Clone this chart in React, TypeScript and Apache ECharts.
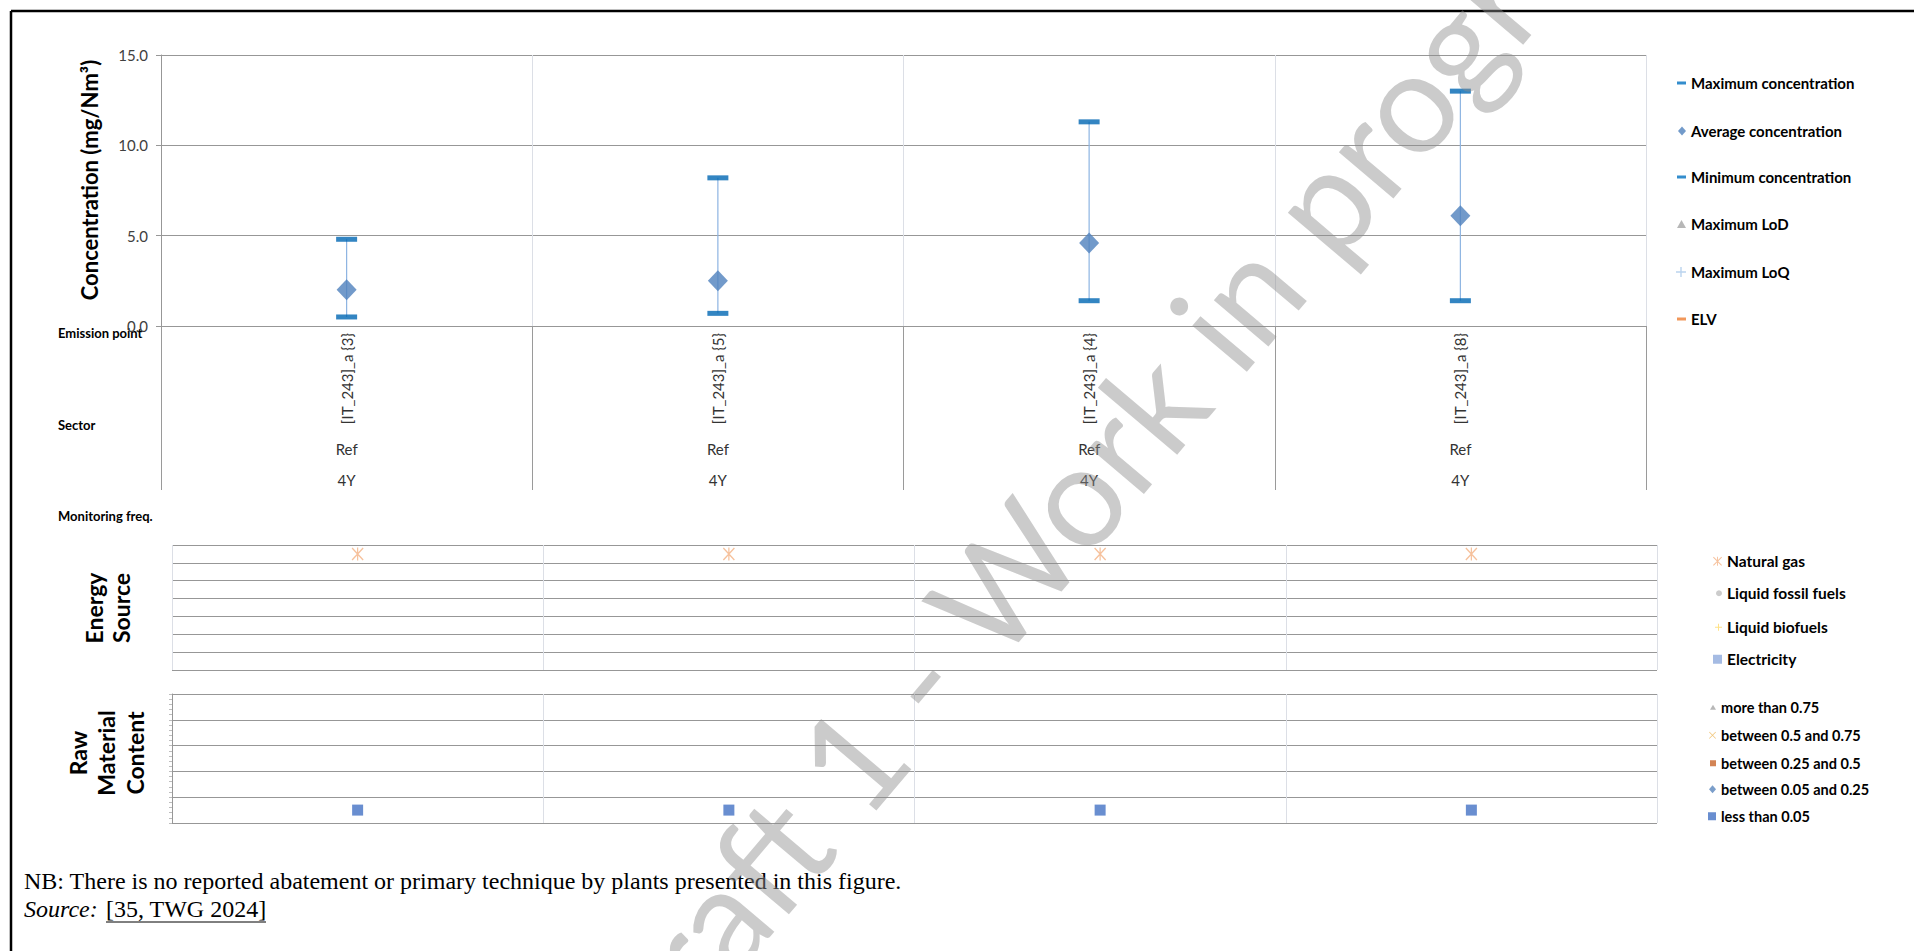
import React, { useEffect, useRef } from 'react';
import * as echarts from 'echarts';

// ---------- data ----------
const categories = ['[IT_243]_a {3}', '[IT_243]_a {5}', '[IT_243]_a {4}', '[IT_243]_a {8}'];
const sectors = ['Ref', 'Ref', 'Ref', 'Ref'];
const monitoringFreq = ['4Y', '4Y', '4Y', '4Y'];
const maxConcentration = [4.8, 8.2, 11.3, 13.0];
const avgConcentration = [2.0, 2.5, 4.6, 6.1];
const minConcentration = [0.5, 0.7, 1.4, 1.4];
const concentrationTicks = [0, 5, 10, 15];
const energyRowCount = 7;
const naturalGasRow = [6.5, 6.5, 6.5, 6.5];
const rawMaterialRowCount = 5;
const lessThan005Row = [0.5, 0.5, 0.5, 0.5];
const concentrationLegend = ['Maximum concentration', 'Average concentration', 'Minimum concentration', 'Maximum LoD', 'Maximum LoQ', 'ELV'];
const energyLegend = ['Natural gas', 'Liquid fossil fuels', 'Liquid biofuels', 'Electricity'];
const rawLegend = ['more than 0.75', 'between 0.5 and 0.75', 'between 0.25 and 0.5', 'between 0.05 and 0.25', 'less than 0.05'];

// ---------- styles ----------
const FONT = 'Lato, "Open Sans", sans-serif';
const SERIF = '"Liberation Serif", "Times New Roman", serif';
const PLUS = 'path://M4.3,0H5.7V10H4.3ZM0,4.3H10V5.7H0Z';
const CROSS = 'path://M0,0.8L0.8,0L10,9.2L9.2,10ZM9.2,0L10,0.8L0.8,10L0,9.2Z';
const ASTER = 'path://M0,0.8L0.8,0L10,9.2L9.2,10ZM9.2,0L10,0.8L0.8,10L0,9.2ZM4.5,0H5.5V10H4.5Z';
const GRID_H = '#979797';
const GRID_V = '#dcdfe6';

type LegendSpec = { name: string; icon: string; color: string; w: number; h: number; textLeft: number; cy: number; fs: number };

const legendSpecs: LegendSpec[] = [
  { name: concentrationLegend[0], icon: 'rect', color: '#0070C0', w: 9, h: 3, textLeft: 1691, cy: 83, fs: 15 },
  { name: concentrationLegend[1], icon: 'diamond', color: '#4F81BD', w: 8, h: 9, textLeft: 1691, cy: 131, fs: 15 },
  { name: concentrationLegend[2], icon: 'rect', color: '#0070C0', w: 9, h: 3, textLeft: 1691, cy: 177, fs: 15 },
  { name: concentrationLegend[3], icon: 'triangle', color: '#A5A5A5', w: 9, h: 8, textLeft: 1691, cy: 224, fs: 15 },
  { name: concentrationLegend[4], icon: PLUS, color: '#A9C8EA', w: 10, h: 10, textLeft: 1691, cy: 272, fs: 15 },
  { name: concentrationLegend[5], icon: 'rect', color: '#ED7D31', w: 9, h: 3, textLeft: 1691, cy: 319, fs: 15 },
  { name: energyLegend[0], icon: ASTER, color: '#F4B183', w: 9, h: 10, textLeft: 1727, cy: 561, fs: 15.5 },
  { name: energyLegend[1], icon: 'circle', color: '#BFBFBF', w: 6, h: 6, textLeft: 1727, cy: 593, fs: 15.5 },
  { name: energyLegend[2], icon: PLUS, color: '#FFD966', w: 7, h: 7, textLeft: 1727, cy: 627, fs: 15.5 },
  { name: energyLegend[3], icon: 'rect', color: '#8FAADC', w: 9, h: 9, textLeft: 1727, cy: 659, fs: 15.5 },
  { name: rawLegend[0], icon: 'triangle', color: '#A5A5A5', w: 6, h: 5, textLeft: 1721, cy: 707, fs: 14.5 },
  { name: rawLegend[1], icon: CROSS, color: '#EDB95C', w: 7, h: 7, textLeft: 1721, cy: 735, fs: 14.5 },
  { name: rawLegend[2], icon: 'rect', color: '#C8652A', w: 6, h: 6, textLeft: 1721, cy: 763, fs: 14.5 },
  { name: rawLegend[3], icon: 'diamond', color: '#5A86BD', w: 7, h: 8, textLeft: 1721, cy: 789, fs: 14.5 },
  { name: rawLegend[4], icon: 'rect', color: '#4472C4', w: 8, h: 8, textLeft: 1721, cy: 816, fs: 14.5 },
];

function buildOption(): any {
  const emptyScatter = (name: string, xi: number, color: string) => ({
    name,
    type: 'scatter',
    xAxisIndex: xi,
    yAxisIndex: xi === 0 ? 0 : xi === 3 ? 1 : 2,
    data: [],
    itemStyle: { color },
  });

  const legends = legendSpecs.map((s) => ({
    data: [{ name: s.name, icon: s.icon, itemStyle: { color: s.color, borderWidth: 0 } }],
    left: s.textLeft - 5 - s.w,
    top: s.cy - s.fs / 2,
    orient: 'vertical',
    padding: 0,
    itemGap: 0,
    itemWidth: s.w,
    itemHeight: s.h,
    selectedMode: false,
    textStyle: { fontFamily: FONT, fontWeight: 'bold', fontSize: s.fs, color: '#000' },
  }));

  return {
    animation: false,
    backgroundColor: '#ffffff',
    legend: legends,
    grid: [
      { left: 161, top: 55, width: 1485, height: 271 },
      { left: 172, top: 545, width: 1485, height: 125 },
      { left: 172, top: 694, width: 1485, height: 129 },
    ],
    xAxis: [
      {
        type: 'category', gridIndex: 0, data: categories, position: 'bottom',
        axisLine: { show: true, lineStyle: { color: GRID_H, width: 1 } },
        axisTick: { show: true, interval: 0, length: 164, lineStyle: { color: '#9a9a9a' } },
        axisLabel: { interval: 0, rotate: 90, margin: 7, fontFamily: FONT, fontSize: 15, color: '#333' },
        splitLine: { show: true, interval: 0, lineStyle: { color: GRID_V } },
      },
      {
        type: 'category', gridIndex: 0, data: categories, position: 'bottom', offset: 109,
        axisLine: { show: false }, axisTick: { show: false },
        axisLabel: { interval: 0, margin: 6, fontFamily: FONT, fontSize: 15, color: '#333', formatter: (_v: string, i: number) => sectors[i] },
      },
      {
        type: 'category', gridIndex: 0, data: categories, position: 'bottom', offset: 140,
        axisLine: { show: false }, axisTick: { show: false },
        axisLabel: { interval: 0, margin: 6, fontFamily: FONT, fontSize: 15, color: '#333', formatter: (_v: string, i: number) => monitoringFreq[i] },
      },
      {
        type: 'category', gridIndex: 1, data: categories,
        axisLine: { show: false }, axisTick: { show: false }, axisLabel: { show: false },
        splitLine: { show: true, interval: 0, lineStyle: { color: GRID_V } },
      },
      {
        type: 'category', gridIndex: 2, data: categories,
        axisLine: { show: false }, axisTick: { show: false }, axisLabel: { show: false },
        splitLine: { show: true, interval: 0, lineStyle: { color: GRID_V } },
      },
    ],
    yAxis: [
      {
        type: 'value', gridIndex: 0,
        min: concentrationTicks[0], max: concentrationTicks[concentrationTicks.length - 1],
        interval: concentrationTicks[1] - concentrationTicks[0],
        axisLine: { show: true, lineStyle: { color: GRID_H } },
        axisTick: { show: true, length: 5, lineStyle: { color: GRID_H } },
        axisLabel: { margin: 13, fontFamily: FONT, fontSize: 15, color: '#404040', formatter: (v: number) => v.toFixed(1) },
        splitLine: { show: true, lineStyle: { color: GRID_H } },
      },
      {
        type: 'value', gridIndex: 1, min: 0, max: energyRowCount, interval: 1,
        axisLine: { show: false }, axisTick: { show: false }, axisLabel: { show: false },
        splitLine: { show: true, lineStyle: { color: GRID_H } },
      },
      {
        type: 'value', gridIndex: 2, min: 0, max: rawMaterialRowCount, interval: 1,
        axisLine: { show: true, lineStyle: { color: GRID_H } },
        axisTick: { show: true, length: 3, lineStyle: { color: '#bdbdbd' } },
        minorTick: { show: true, splitNumber: 5, length: 3, lineStyle: { color: '#bdbdbd' } },
        axisLabel: { show: false },
        splitLine: { show: true, lineStyle: { color: GRID_H } },
      },
    ],
    series: [
      {
        type: 'custom', name: 'range', xAxisIndex: 0, yAxisIndex: 0, z: 1,
        data: categories.map((_c, i) => [i, minConcentration[i], maxConcentration[i]]),
        encode: { x: 0, y: [1, 2] },
        renderItem: (_p: any, api: any) => {
          const a = api.coord([api.value(0), api.value(1)]);
          const b = api.coord([api.value(0), api.value(2)]);
          return { type: 'line', shape: { x1: a[0], y1: a[1], x2: b[0], y2: b[1] }, style: { stroke: '#8DB4E2', lineWidth: 1.2 } };
        },
      },
      {
        name: concentrationLegend[0], type: 'scatter', xAxisIndex: 0, yAxisIndex: 0, z: 3,
        symbol: 'rect', symbolSize: [21, 5], itemStyle: { color: '#0066B3' },
        data: maxConcentration.map((v, i) => [i, v]),
      },
      {
        name: concentrationLegend[1], type: 'scatter', xAxisIndex: 0, yAxisIndex: 0, z: 4,
        symbol: 'diamond', symbolSize: [20, 21], itemStyle: { color: '#4F81BD' },
        data: avgConcentration.map((v, i) => [i, v]),
      },
      {
        name: concentrationLegend[2], type: 'scatter', xAxisIndex: 0, yAxisIndex: 0, z: 3,
        symbol: 'rect', symbolSize: [21, 5], itemStyle: { color: '#0066B3' },
        data: minConcentration.map((v, i) => [i, v]),
      },
      emptyScatter(concentrationLegend[3], 0, '#A5A5A5'),
      emptyScatter(concentrationLegend[4], 0, '#A9C8EA'),
      emptyScatter(concentrationLegend[5], 0, '#ED7D31'),
      {
        name: energyLegend[0], type: 'scatter', xAxisIndex: 3, yAxisIndex: 1,
        symbol: ASTER, symbolSize: [12, 13], itemStyle: { color: '#F4B183' },
        data: naturalGasRow.map((v, i) => [i, v]),
      },
      emptyScatter(energyLegend[1], 3, '#BFBFBF'),
      emptyScatter(energyLegend[2], 3, '#FFD966'),
      emptyScatter(energyLegend[3], 3, '#8FAADC'),
      emptyScatter(rawLegend[0], 4, '#A5A5A5'),
      emptyScatter(rawLegend[1], 4, '#EDB95C'),
      emptyScatter(rawLegend[2], 4, '#C8652A'),
      emptyScatter(rawLegend[3], 4, '#5A86BD'),
      {
        name: rawLegend[4], type: 'scatter', xAxisIndex: 4, yAxisIndex: 2,
        symbol: 'rect', symbolSize: [11, 11], itemStyle: { color: '#4472C4' },
        data: lessThan005Row.map((v, i) => [i, v]),
      },
    ],
    graphic: [
      { type: 'line', shape: { x1: 11, y1: 11, x2: 1914, y2: 11 }, style: { stroke: '#000', lineWidth: 2.5 }, z: 50 },
      { type: 'line', shape: { x1: 11, y1: 11, x2: 11, y2: 951 }, style: { stroke: '#000', lineWidth: 2.5 }, z: 50 },
      {
        type: 'text', x: 89, y: 180, rotation: Math.PI / 2,
        style: { text: 'Concentration (mg/Nm³)', font: `bold 22px ${FONT}`, fill: '#000', align: 'center', verticalAlign: 'middle' },
      },
      { type: 'text', x: 58, y: 333, style: { text: 'Emission point', font: `bold 13px ${FONT}`, fill: '#000', verticalAlign: 'middle' } },
      { type: 'text', x: 58, y: 425, style: { text: 'Sector', font: `bold 13px ${FONT}`, fill: '#000', verticalAlign: 'middle' } },
      { type: 'text', x: 58, y: 516, style: { text: 'Monitoring freq.', font: `bold 13px ${FONT}`, fill: '#000', verticalAlign: 'middle' } },
      {
        type: 'text', x: 107, y: 608, rotation: Math.PI / 2,
        style: { text: 'Energy\nSource', font: `bold 23px ${FONT}`, lineHeight: 27, fill: '#000', align: 'center', verticalAlign: 'middle' },
      },
      {
        type: 'text', x: 106, y: 753, rotation: Math.PI / 2,
        style: { text: 'Raw\nMaterial\nContent', font: `bold 23px ${FONT}`, lineHeight: 28.5, fill: '#000', align: 'center', verticalAlign: 'middle' },
      },
      {
        type: 'text', x: 24, y: 881,
        style: { text: 'NB: There is no reported abatement or primary technique by plants presented in this figure.', font: `24px ${SERIF}`, fill: '#000', verticalAlign: 'middle' },
      },
      {
        type: 'text', x: 24, y: 909,
        style: { text: 'Source:', font: `italic 24px ${SERIF}`, fill: '#000', verticalAlign: 'middle' },
      },
      {
        type: 'text', x: 106, y: 909,
        style: { text: '[35, TWG 2024]', font: `24px ${SERIF}`, fill: '#000', verticalAlign: 'middle' },
      },
      { type: 'line', shape: { x1: 106, y1: 922, x2: 266, y2: 922 }, style: { stroke: '#000', lineWidth: 1 } },
      {
        type: 'text', x: 1113, y: 446, rotation: (49.8 * Math.PI) / 180, z: 100,
        style: { text: 'Draft 1 - Work in progress', font: `141px ${FONT}`, fill: 'rgba(140,140,140,0.45)', align: 'center', verticalAlign: 'middle' },
      },
    ],
  };
}

export default function App() {
  const ref = useRef<HTMLDivElement>(null);
  useEffect(() => {
    if (!ref.current) return;
    const chart = echarts.init(ref.current, undefined, { renderer: 'svg' });
    chart.setOption(buildOption());
    return () => chart.dispose();
  }, []);
  return <div ref={ref} style={{ position: 'fixed', left: 0, top: 0, width: 1914, height: 951, background: '#fff' }} />;
}
